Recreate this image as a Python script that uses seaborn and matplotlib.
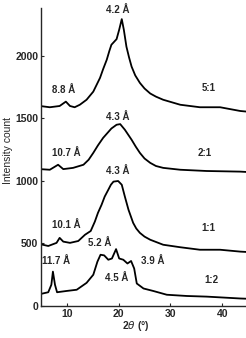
import numpy as np
import pandas as pd
import matplotlib
matplotlib.use("Agg")
import matplotlib.pyplot as plt
import seaborn as sns

# XRD patterns (2theta in degrees, intensity counts)
x_51 = [4.8, 6.7, 8.6, 9.8, 10.6, 11.5, 12.5, 13.8, 15.1, 16.4, 17.0, 17.7, 18.2, 18.6, 19.6, 20.1, 20.6, 21.0, 21.5, 22.0, 22.5, 23.2, 24.1, 25.0, 26.1, 27.2, 28.6, 31.9, 35.7, 39.6, 43.5, 44.8]
y_51 = [1600, 1590, 1600, 1635, 1600, 1590, 1610, 1650, 1715, 1825, 1895, 1970, 2040, 2090, 2135, 2210, 2295, 2210, 2075, 1990, 1915, 1845, 1785, 1740, 1700, 1675, 1650, 1610, 1590, 1590, 1560, 1555]

x_21 = [4.8, 6.7, 8.3, 9.3, 11.2, 13.2, 14.2, 15.1, 16.0, 17.0, 18.6, 19.6, 20.3, 21.2, 22.5, 23.3, 24.1, 25.0, 26.1, 27.2, 28.6, 31.9, 37.0, 43.5, 44.8]
y_21 = [1095, 1090, 1130, 1095, 1105, 1130, 1170, 1225, 1285, 1345, 1420, 1450, 1455, 1410, 1330, 1275, 1225, 1180, 1145, 1120, 1105, 1090, 1080, 1075, 1072]

x_11 = [4.8, 6.4, 8.0, 8.6, 9.3, 10.6, 12.2, 13.5, 14.6, 15.4, 16.0, 16.7, 17.3, 18.0, 18.5, 19.0, 19.9, 20.6, 21.2, 21.9, 22.8, 23.4, 24.1, 25.0, 26.1, 28.6, 31.9, 35.7, 39.6, 43.5, 44.8]
y_11 = [495, 480, 505, 545, 515, 505, 520, 570, 600, 675, 745, 810, 875, 930, 970, 995, 1000, 970, 875, 770, 665, 620, 585, 555, 530, 490, 470, 450, 450, 435, 432]

x_12 = [4.8, 6.4, 7.0, 7.3, 7.7, 8.1, 9.9, 11.9, 13.8, 15.1, 15.9, 16.5, 17.2, 18.0, 18.7, 19.5, 20.1, 20.9, 21.7, 22.4, 23.0, 23.5, 24.8, 26.7, 29.3, 33.2, 37.0, 43.5, 44.8]
y_12 = [95, 110, 170, 275, 170, 110, 120, 130, 185, 250, 355, 410, 405, 370, 380, 455, 380, 370, 340, 360, 300, 180, 140, 120, 90, 80, 75, 60, 58]

# annotations: (text, x, y)
peak_labels = [("4.2 Å", 19.9, 2370), ("8.8 Å", 9.3, 1730),
               ("4.3 Å", 19.9, 1510), ("10.7 Å", 9.8, 1225),
               ("4.3 Å", 19.9, 1078), ("10.1 Å", 9.8, 650), ("5.2 Å", 16.3, 505),
               ("11.7 Å", 7.9, 360), ("4.5 Å", 19.6, 225), ("3.9 Å", 26.6, 360)]
ratio_labels = [("5:1", 37.3, 1745), ("2:1", 36.7, 1225), ("1:1", 37.3, 625), ("1:2", 38.0, 210)]

sns.set_style("ticks")
plt.rcParams['font.family'] = ['Liberation Sans', 'DejaVu Sans']

fig = plt.figure(figsize=(2.46, 3.38), dpi=100)
ax = fig.add_axes([0.1667, 0.0947, 0.8333, 0.882])

for xs, ys in [(x_51, y_51), (x_21, y_21), (x_11, y_11), (x_12, y_12)]:
    df = pd.DataFrame({'two_theta': xs, 'counts': ys})
    sns.lineplot(data=df, x='two_theta', y='counts', ax=ax, color='black',
                 lw=1.3, estimator=None, sort=False)

for t, x, y in peak_labels + ratio_labels:
    ax.text(x, y, t, ha='center', va='center', fontsize=7, fontweight='bold')

ax.set_xlim(5, 44.6)
ax.set_ylim(0, 2385)
ax.set_xticks([10, 20, 30, 40])
ax.set_yticks([0, 500, 1000, 1500, 2000])
ax.tick_params(direction='in', length=2, width=0.8, labelsize=7.5, pad=2)
for lab in ax.get_xticklabels() + ax.get_yticklabels():
    lab.set_fontweight('bold')
sns.despine(ax=ax)
ax.spines['left'].set_linewidth(1.0)
ax.spines['bottom'].set_linewidth(1.0)

ax.set_xlabel(r'2$\theta$ (°)', fontsize=7.5, fontweight='bold', labelpad=1)
ax.set_ylabel('Intensity count', fontsize=7.5, labelpad=2)
ax.xaxis.set_label_coords(0.46, -0.045)
ax.yaxis.set_label_coords(-0.135, 0.52)

fig.savefig('out.png', dpi=100)
